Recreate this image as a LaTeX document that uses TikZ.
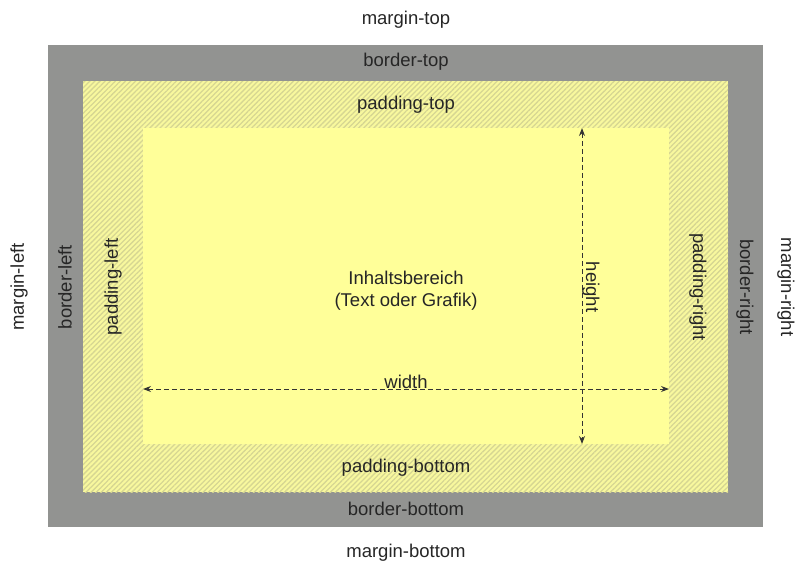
\documentclass[tikz,border=0pt]{standalone}
\usepackage{fontspec}
\setmainfont{Liberation Sans}
\usepackage{xcolor}
\usetikzlibrary{positioning,arrows.meta,patterns.meta}

\definecolor{bordergray}{RGB}{146,147,145}
\definecolor{padyellow}{RGB}{248,248,158}
\definecolor{hatchline}{RGB}{214,214,146}
\definecolor{contyellow}{RGB}{255,255,153}

\begin{document}
\begin{tikzpicture}[x=1pt, y=-1pt, font=\fontsize{18.5}{22}\selectfont,
		box/.style={inner sep=0pt, outer sep=0pt},
		lbl/.style={text=black!85, inner sep=1pt},
		lblup/.style={lbl, rotate=90},
		lbldown/.style={lbl, rotate=-90},
		dim/.style={{Stealth[length=8pt,width=6pt]}-{Stealth[length=8pt,width=6pt]}, black!80, line width=1pt, dash pattern=on 5pt off 3pt}]
		\useasboundingbox (0,0) rectangle (798,563);
		% boxes
		\node[box, fill=bordergray, minimum width=715pt, minimum height=482pt] (border) at (405.5,286) {};
		\node[box, preaction={fill=padyellow}, pattern={Lines[angle=45,distance=3.6pt,line width=1.3pt]}, pattern color=hatchline, minimum width=645pt, minimum height=411pt] (padding) at (405.5,286.5) {};
		\node[box, fill=contyellow, minimum width=526pt, minimum height=316pt] (content) at (406,286) {};
		% dimensions
		\coordinate (wline) at (0,389);
		\coordinate (hline) at (582,0);
		\draw[dim] (content.west |- wline) -- (content.east |- wline);
		\draw[dim] (content.north -| hline) -- (content.south -| hline);
		% labels
		\node[lbl] (mtop) at (406,20) {margin-top};
		\node[lbl] (btop) at (406,62) {border-top};
		\node[lbl] (ptop) at (406,105) {padding-top};
		\node[lbl] (pbot) at (406,468) {padding-bottom};
		\node[lbl] (bbot) at (406,509) {border-bottom};
		\node[lbl] (mbot) at (406,553) {margin-bottom};
		\node[lblup] (mleft) at (19,287) {margin-left};
		\node[lblup] (bleft) at (65,287) {border-left};
		\node[lblup] (pleft) at (113,287) {padding-left};
		\node[lbldown] (pright) at (698,287) {padding-right};
		\node[lbldown] (bright) at (745,287) {border-right};
		\node[lbldown] (mright) at (786,287) {margin-right};
		\node[lbl, align=center] (inhalt) at (406,291) {Inhaltsbereich\\(Text oder Grafik)};
		\node[lbl] (wlabel) at (406,382) {width};
		\node[lbldown] (hlabel) at (591,287) {height};
	\end{tikzpicture}
\end{document}
